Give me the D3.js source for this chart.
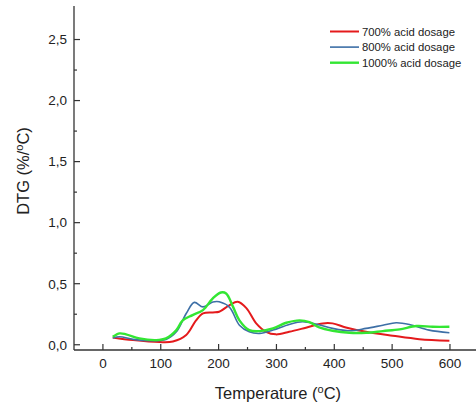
<!DOCTYPE html>
<html>
<head>
<meta charset="utf-8">
<script src="https://cdn.jsdelivr.net/npm/d3@7"></script>
<style>
  html, body { margin: 0; padding: 0; background: #fff; }
  svg { display: block; }
  text { font-family: "Liberation Sans", Arial, sans-serif; fill: #222; }
</style>
</head>
<body>
<svg id="chart" width="476" height="406"></svg>
<script>
// Temperature sample points (°C) for each dosage curve
const temp700 = [17, 52, 98, 121, 144, 161, 173, 190, 201, 219, 233, 248, 265, 282, 299, 322, 351, 380, 397, 420, 455, 501, 547, 599];
const dtg700  = [0.06, 0.038, 0.022, 0.027, 0.08, 0.2, 0.257, 0.265, 0.27, 0.325, 0.352, 0.3, 0.175, 0.106, 0.085, 0.106, 0.14, 0.175, 0.175, 0.142, 0.106, 0.074, 0.046, 0.033];

const temp800 = [17, 29, 52, 81, 109, 127, 144, 158, 173, 190, 201, 219, 236, 253, 271, 294, 322, 345, 368, 397, 426, 455, 484, 507, 530, 564, 599];
const dtg800  = [0.055, 0.065, 0.044, 0.033, 0.044, 0.106, 0.256, 0.347, 0.31, 0.35, 0.352, 0.306, 0.16, 0.106, 0.093, 0.12, 0.166, 0.188, 0.17, 0.134, 0.115, 0.134, 0.16, 0.18, 0.166, 0.12, 0.098];

const temp1000 = [17, 29, 40, 63, 92, 109, 127, 138, 155, 173, 190, 204, 213, 225, 236, 253, 271, 294, 317, 340, 357, 374, 397, 426, 455, 484, 513, 542, 570, 599];
const dtg1000  = [0.065, 0.093, 0.085, 0.052, 0.038, 0.052, 0.12, 0.2, 0.243, 0.284, 0.38, 0.428, 0.42, 0.31, 0.2, 0.12, 0.112, 0.134, 0.18, 0.2, 0.186, 0.142, 0.115, 0.098, 0.098, 0.112, 0.126, 0.153, 0.147, 0.147];

const seriesNames = ["700% acid dosage", "800% acid dosage", "1000% acid dosage"];
const seriesColors = ["#e41a1c", "#3d6fa6", "#33e633"];
const seriesWidths = [2, 1.6, 2.4];

const xTicks = [0, 100, 200, 300, 400, 500, 600];
const yTicks = [0, 0.5, 1.0, 1.5, 2.0, 2.5];

const svg = d3.select("#chart");

const x = d3.scaleLinear().domain([-50, 645]).range([74, 476]);
const y = d3.scaleLinear().domain([-0.043, 2.75]).range([350, 9]);

const axisColor = "#333";

// Axes lines
svg.append("line").attr("x1", x(-50)).attr("x2", 476).attr("y1", 350).attr("y2", 350)
  .attr("stroke", axisColor).attr("stroke-width", 1.3);
svg.append("line").attr("x1", 74).attr("x2", 74).attr("y1", 6).attr("y2", 350)
  .attr("stroke", axisColor).attr("stroke-width", 1.3);

// X ticks (inward) with minor ticks at 50s
const xMinor = d3.range(50, 600, 100);
svg.selectAll(".xt").data(xTicks).enter().append("line")
  .attr("x1", d => x(d)).attr("x2", d => x(d)).attr("y1", 350).attr("y2", 344)
  .attr("stroke", axisColor).attr("stroke-width", 1.2);
svg.selectAll(".xm").data(xMinor).enter().append("line")
  .attr("x1", d => x(d)).attr("x2", d => x(d)).attr("y1", 350).attr("y2", 347)
  .attr("stroke", axisColor).attr("stroke-width", 1.2);
svg.selectAll(".xl").data(xTicks).enter().append("text")
  .attr("x", d => x(d)).attr("y", 368).attr("text-anchor", "middle")
  .attr("font-size", 13.5).text(d => d);

// Y ticks (inward) with minor ticks
const yMinor = d3.range(0.25, 2.75, 0.5);
const fmtY = d => d3.format(".1f")(d).replace(".", ",");
svg.selectAll(".yt").data(yTicks).enter().append("line")
  .attr("x1", 74).attr("x2", 80).attr("y1", d => y(d)).attr("y2", d => y(d))
  .attr("stroke", axisColor).attr("stroke-width", 1.2);
svg.selectAll(".ym").data(yMinor).enter().append("line")
  .attr("x1", 74).attr("x2", 77).attr("y1", d => y(d)).attr("y2", d => y(d))
  .attr("stroke", axisColor).attr("stroke-width", 1.2);
svg.selectAll(".yl").data(yTicks).enter().append("text")
  .attr("x", 67).attr("y", d => y(d) + 4.8).attr("text-anchor", "end")
  .attr("font-size", 13.5).text(fmtY);

// Axis titles
const xt = svg.append("text").attr("x", 278).attr("y", 399).attr("text-anchor", "middle")
  .attr("font-size", 16.5);
xt.append("tspan").text("Temperature (");
xt.append("tspan").attr("dy", -6).attr("font-size", 11).text("o");
xt.append("tspan").attr("dy", 6).text("C)");

const yt = svg.append("text").attr("transform", "translate(29,171) rotate(-90)")
  .attr("text-anchor", "middle").attr("font-size", 16.5);
yt.append("tspan").text("DTG (%/");
yt.append("tspan").attr("dy", -6).attr("font-size", 11).text("o");
yt.append("tspan").attr("dy", 6).text("C)");

// Curves
const data = [
  d3.zip(temp700, dtg700),
  d3.zip(temp800, dtg800),
  d3.zip(temp1000, dtg1000)
];
const line = d3.line().x(d => x(d[0])).y(d => y(d[1])).curve(d3.curveCatmullRom.alpha(0.5));
// draw green first so red/blue sit like in the plot order
[0, 1, 2].forEach(i => {
  svg.append("path").datum(data[i]).attr("d", line)
    .attr("fill", "none").attr("stroke", seriesColors[i])
    .attr("stroke-width", seriesWidths[i]).attr("stroke-linejoin", "round");
});

// Legend
const legend = svg.append("g");
seriesNames.forEach((name, i) => {
  const ly = 31.5 + i * 15.6;
  legend.append("line").attr("x1", 330).attr("x2", 359).attr("y1", ly).attr("y2", ly)
    .attr("stroke", seriesColors[i]).attr("stroke-width", seriesWidths[i]);
  legend.append("text").attr("x", 362).attr("y", ly + 4).attr("font-size", 11.3).text(name);
});
</script>
</body>
</html>
